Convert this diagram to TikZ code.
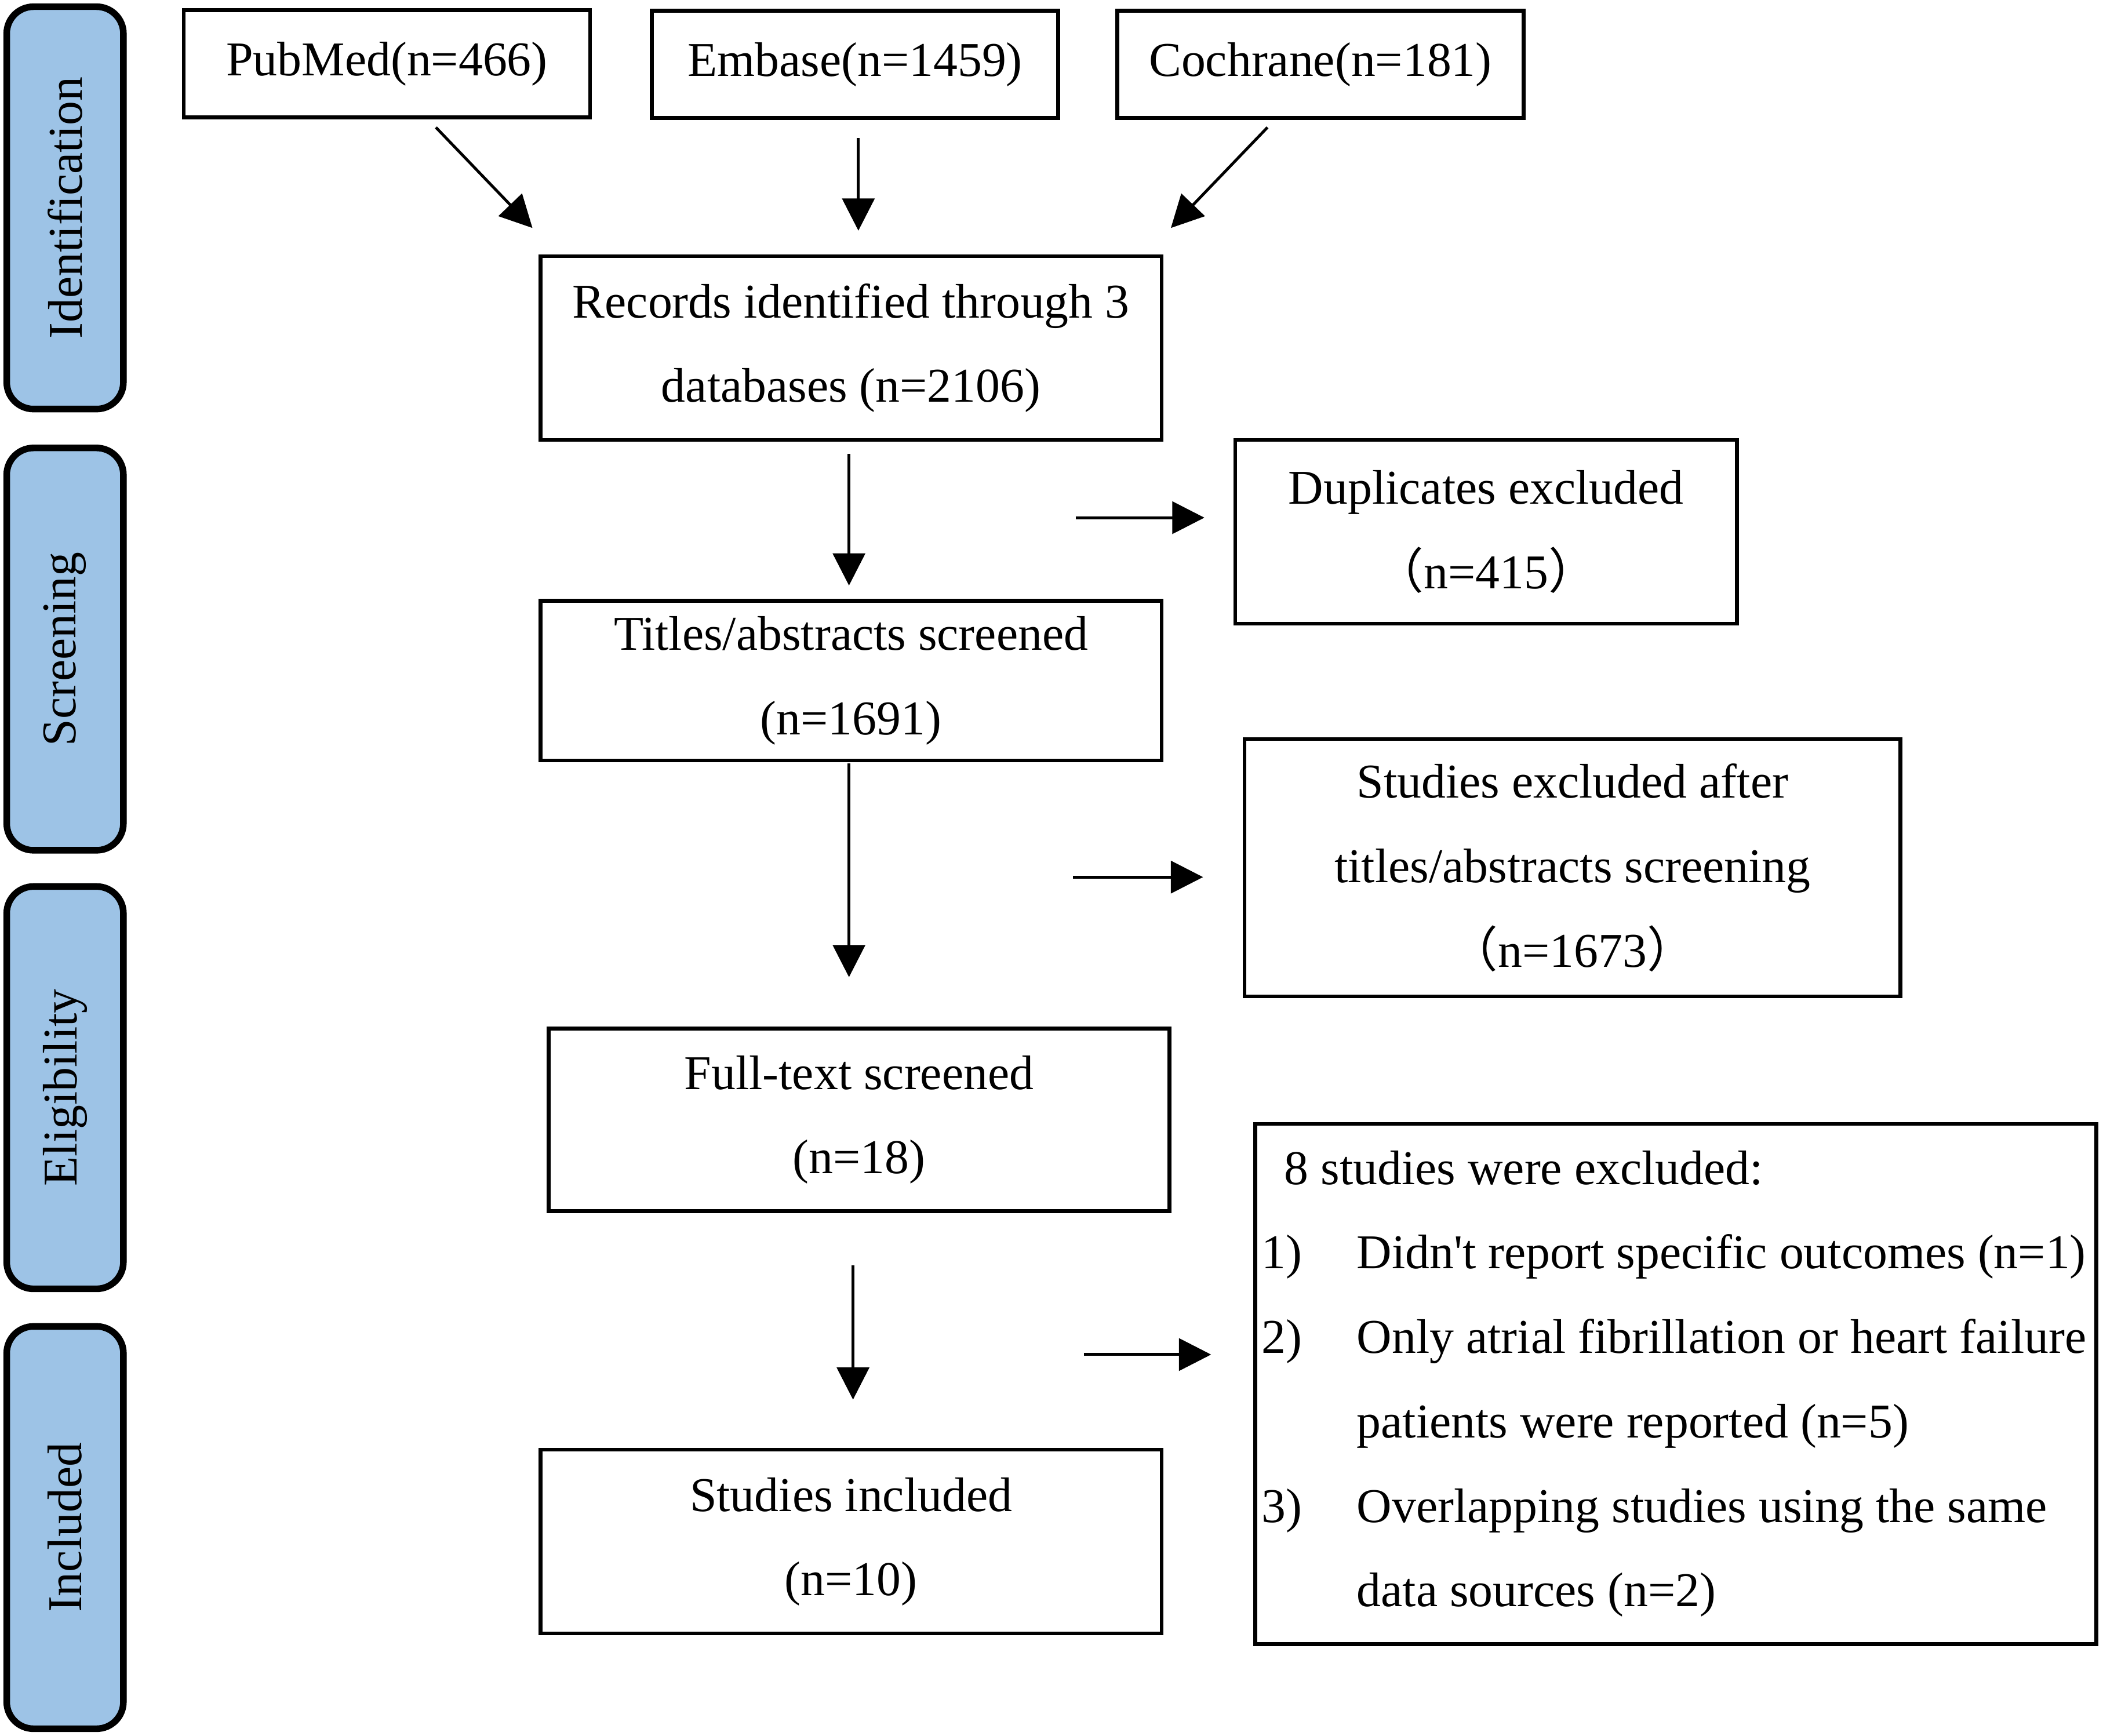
\documentclass[tikz,border=0pt]{standalone}
\usepackage{fontspec}
\setmainfont{Liberation Serif}
\newfontfamily\cjk{Noto Sans CJK SC}
\usetikzlibrary{arrows.meta,positioning}
\definecolor{stageblue}{RGB}{157,195,230}
\tikzset{
  box/.style={draw, line width=0.8pt, align=center, inner sep=0pt,
    font=\fontsize{10.3}{17.9}\selectfont},
  mainbox/.style={box, minimum width=4.63cm, minimum height=1.37cm},
  srcbox/.style={box, minimum width=3.03cm, minimum height=0.80cm},
  stage/.style={draw, line width=1.4pt, fill=stageblue, rounded corners=0.2cm,
    minimum width=0.87cm, minimum height=3.0cm, inner sep=0pt,
    font=\fontsize{10.3}{12}\selectfont},
  arr/.style={line width=0.6pt, -{Triangle[length=0.24cm,width=0.24cm]}},
  item/.style={anchor=base west, inner sep=0pt, font=\fontsize{10.3}{12}\selectfont}
}
\begin{document}
\begin{tikzpicture}
  \useasboundingbox (0,0) rectangle (15.68,-12.94);
  % stages
  \node[stage] (id) at (0.485,-1.55) {\rotatebox{90}{Identification}};
  \node[stage] (sc) at (0.485,-4.84) {\rotatebox{90}{Screening}};
  \node[stage] (el) at (0.485,-8.11) {\rotatebox{90}{Eligibility}};
  \node[stage] (in) at (0.485,-11.39) {\rotatebox{90}{Included}};
  % sources
  \node[srcbox] (pub) at (2.885,-0.475) {PubMed(n=466)};
  \node[srcbox] (emb) at (6.375,-0.48) {Embase(n=1459)};
  \node[srcbox] (coc) at (9.845,-0.48) {Cochrane(n=181)};
  % main column
  \node[mainbox] (rec) at (6.345,-2.595) {Records identified through 3\\databases (n=2106)};
  \node[mainbox, minimum height=1.19cm] (tit) at (6.345,-5.075) {Titles/abstracts screened\\(n=1691)};
  \node[mainbox, minimum height=1.36cm] (full) at (6.405,-8.35) {Full-text screened\\(n=18)};
  \node[mainbox] (inc) at (6.345,-11.495) {Studies included\\(n=10)};
  % exclusions
  \node[box, minimum width=3.74cm, minimum height=1.37cm] (dup) at (11.08,-3.965)
    {Duplicates excluded\\{\cjk （}n=415{\cjk ）}};
  \node[box, minimum width=4.89cm, minimum height=1.92cm] (exc) at (11.725,-6.47)
    {Studies excluded after\\titles/abstracts screening\\{\cjk （}n=1673{\cjk ）}};
  \node[box, minimum width=6.27cm, minimum height=3.88cm] (ex8) at (12.495,-10.32) {};
  \node[item] (hd) at (9.57,-8.83) {8 studies were excluded:};
  \node[item] (n1) at (9.40,-9.46) {1)};
  \node[item] (t1) at (10.11,-9.46) {Didn\textquotesingle t report specific outcomes (n=1)};
  \node[item] (n2) at (9.40,-10.09) {2)};
  \node[item] (t2) at (10.11,-10.09) {Only atrial fibrillation or heart failure};
  \node[item] (t2b) at (10.11,-10.72) {patients were reported (n=5)};
  \node[item] (n3) at (9.40,-11.35) {3)};
  \node[item] (t3) at (10.11,-11.35) {Overlapping studies using the same};
  \node[item] (t3b) at (10.11,-11.98) {data sources (n=2)};
  % arrow ends
  \coordinate (pubo) at (3.25,-0.95);
  \coordinate (pubi) at (3.97,-1.70);
  \coordinate (embo) at (6.40,-1.03);
  \coordinate (embi) at (6.40,-1.72);
  \coordinate (coco) at (9.45,-0.95);
  \coordinate (coci) at (8.73,-1.70);
  \coordinate (dupo) at (8.02,-3.86);
  \coordinate (dupi) at (8.98,-3.86);
  \coordinate (exco) at (8.00,-6.54);
  \coordinate (exci) at (8.97,-6.54);
  \coordinate (ex8o) at (8.08,-10.10);
  \coordinate (ex8i) at (9.03,-10.10);
  % arrows
  \draw[arr] (pubo) -- (pubi);
  \draw[arr] (embo) -- (embi);
  \draw[arr] (coco) -- (coci);
  \draw[arr, shorten <=0.09cm, shorten >=0.10cm] ([xshift=-0.015cm]rec.south) -- ([xshift=-0.015cm]rec.south |- tit.north);
  \draw[arr, shorten <=0.01cm, shorten >=0.37cm] ([xshift=-0.015cm]tit.south) -- ([xshift=-0.015cm]tit.south |- full.north);
  \draw[arr, shorten <=0.39cm, shorten >=0.36cm] (6.36,0 |- full.south) -- (6.36,0 |- inc.north);
  \draw[arr] (dupo) -- (dupi);
  \draw[arr] (exco) -- (exci);
  \draw[arr] (ex8o) -- (ex8i);
\end{tikzpicture}
\end{document}
